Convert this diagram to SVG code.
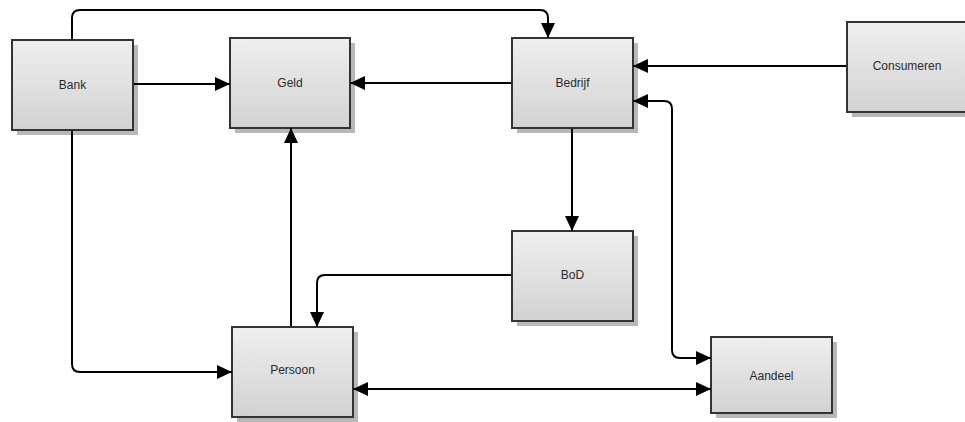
<svg xmlns="http://www.w3.org/2000/svg" width="965" height="422" viewBox="0 0 965 422">
<style>
.box{fill:url(#g);stroke:#333;stroke-width:2}
.sh{fill:#b8b8b8}
.t{font-family:"Liberation Sans",Arial,sans-serif;font-size:12px;fill:#2a2a2a;text-anchor:middle;dominant-baseline:central}
.c{fill:none;stroke:#000;stroke-width:2}
</style>
<defs>
<linearGradient id="g" x1="0" y1="0" x2="0" y2="1">
<stop offset="0" stop-color="#efefef"/>
<stop offset="1" stop-color="#d2d2d2"/>
</linearGradient>
<marker id="a" viewBox="0 0 15 14" refX="15" refY="7" markerWidth="15" markerHeight="14" markerUnits="userSpaceOnUse" orient="auto-start-reverse">
<path d="M0,0L15,7L0,14z" fill="#000"/>
</marker>
</defs>
<rect width="965" height="422" fill="#fff"/>
<g id="bank"><rect class="sh" x="17" y="45" width="121" height="90"/><rect class="box" x="12" y="40" width="121" height="90"/><text class="t" x="72.5" y="85">Bank</text></g>
<g id="geld"><rect class="sh" x="235" y="43" width="120" height="90"/><rect class="box" x="230" y="38" width="120" height="90"/><text class="t" x="290" y="83">Geld</text></g>
<g id="bedrijf"><rect class="sh" x="517" y="43" width="121" height="90"/><rect class="box" x="512" y="38" width="121" height="90"/><text class="t" x="572.5" y="83">Bedrijf</text></g>
<g id="consumeren"><rect class="sh" x="852" y="27" width="120" height="90"/><rect class="box" x="847" y="22" width="120" height="90"/><text class="t" x="907" y="66">Consumeren</text></g>
<g id="bod"><rect class="sh" x="517" y="236" width="121" height="90"/><rect class="box" x="512" y="231" width="121" height="90"/><text class="t" x="572.5" y="275">BoD</text></g>
<g id="persoon"><rect class="sh" x="237" y="332" width="121" height="90"/><rect class="box" x="232" y="327" width="121" height="90"/><text class="t" x="292.5" y="370">Persoon</text></g>
<g id="aandeel"><rect class="sh" x="716" y="342" width="121" height="76"/><rect class="box" x="711" y="337" width="121" height="76"/><text class="t" x="771.5" y="376">Aandeel</text></g>
<g id="connectors">
<path class="c" d="M72,39V18Q72,10 80,10H540Q548,10 548,18V38" marker-end="url(#a)"/>
<path class="c" d="M134,84H230" marker-end="url(#a)"/>
<path class="c" d="M511,83H350" marker-end="url(#a)"/>
<path class="c" d="M846,66H633" marker-end="url(#a)"/>
<path class="c" d="M633,101H664Q672,101 672,109V350Q672,358 680,358H711" marker-start="url(#a)" marker-end="url(#a)"/>
<path class="c" d="M572,129V231" marker-end="url(#a)"/>
<path class="c" d="M511,275H325Q317,275 317,283V327" marker-end="url(#a)"/>
<path class="c" d="M291,326V128" marker-end="url(#a)"/>
<path class="c" d="M72,131V364Q72,372 80,372H232" marker-end="url(#a)"/>
<path class="c" d="M353,389H711" marker-start="url(#a)" marker-end="url(#a)"/>
</g>
</svg>
